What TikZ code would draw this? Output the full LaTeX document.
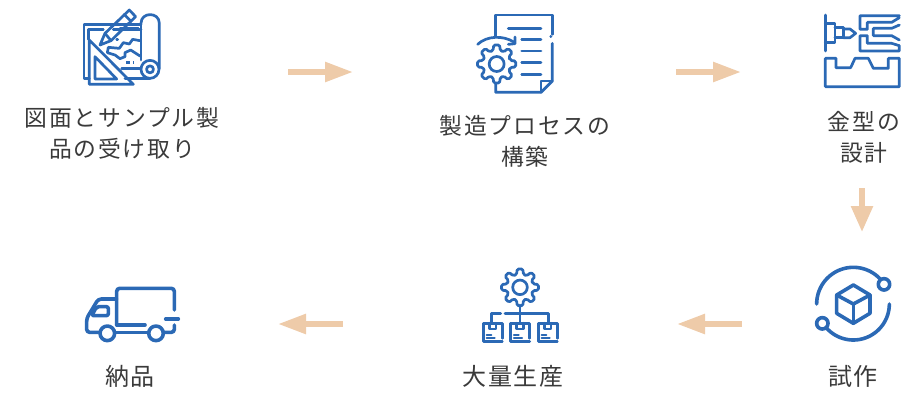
\documentclass[tikz,border=0pt]{standalone}
\usepackage{fontspec}
\setmainfont{Noto Sans CJK JP}[LetterSpace=8]
\usetikzlibrary{arrows.meta}
\definecolor{iconblue}{HTML}{2B69B5}
\definecolor{arrowtan}{HTML}{EECBA9}
\definecolor{labelgrey}{HTML}{3A3A3A}
\tikzset{
  ic/.style={draw=iconblue,line width=2.7pt,line join=round,line cap=round,fill=none},
  icthick/.style={ic,line width=3.6pt},
  icthin/.style={ic,line width=2.2pt},
  zoomed/.style={x=0.33333pt,y=-0.33333pt},
  flowarrow/.style={draw=arrowtan,line width=5.5pt,-{Triangle[length=28pt,width=19pt,fill=arrowtan]}},
  flowdown/.style={draw=arrowtan,line width=5.5pt,-{Triangle[length=26pt,width=21pt,fill=arrowtan]}},
  steplabel/.style={font=\fontsize{22.8}{31}\selectfont,text=labelgrey,align=center,inner sep=0pt},
  bottomlabel/.style={steplabel,font=\fontsize{24}{31}\selectfont}
}
\newcommand{\mygear}[5]{%
  \begin{scope}[shift={(#1,#2)}]
    \pgfmathsetmacro{\gs}{360/#5}
    \draw[ic,rounded corners=1.5pt] ({-.32*\gs}:#4)
      \foreach \i in {1,...,#5}{
        -- ({\i*\gs-\gs-.2*\gs}:#3) -- ({\i*\gs-\gs+.2*\gs}:#3) -- ({\i*\gs-\gs+.32*\gs}:#4) -- ({\i*\gs+\gs-\gs-.32*\gs}:#4)
      } -- cycle;
  \end{scope}}
\begin{document}
\begin{tikzpicture}[x=1pt,y=-1pt]
\useasboundingbox (0,0) rectangle (907,394);
% labels
\node[steplabel] (lab1) at (122,133) {図面とサンプル製\\品の受け取り};
\node[steplabel] (lab2) at (525,141) {製造プロセスの\\構築};
\node[steplabel] (lab3) at (864,137) {金型の\\設計};
\node[bottomlabel] (lab4) at (853,376) {試作};
\node[bottomlabel] (lab5) at (513,376) {大量生産};
\node[bottomlabel] (lab6) at (130,376) {納品};
% connectors
\coordinate (a1s) at (288,72); \coordinate (a1e) at (353,72);
\coordinate (a2s) at (676,72); \coordinate (a2e) at (741,72);
\coordinate (a3s) at (862,188); \coordinate (a3e) at (862,232);
\coordinate (a4s) at (742,324); \coordinate (a4e) at (677,324);
\coordinate (a5s) at (343,324); \coordinate (a5e) at (278,324);
\draw[flowarrow] (a1s) -- (a1e);
\draw[flowarrow] (a2s) -- (a2e);
\draw[flowdown] (a3s) -- (a3e);
\draw[flowarrow] (a4s) -- (a4e);
\draw[flowarrow] (a5s) -- (a5e);
% icon 1: drawings
\begin{scope}[shift={(70pt,0pt)},zoomed]
  \draw[ic] (213,73) -- (42,73) -- (42,235) -- (58,235);
  \draw[ic] (213,88) -- (130,88);
  \draw[ic] (100,88) -- (56,88) -- (56,118);
  \draw[ic] (58,120) -- (58,253) -- (190,253) -- cycle;
  \draw[ic] (75,170) -- (75,237) -- (140,237) -- cycle;
  \draw[ic] (213,73) -- (213,180);
  \draw[ic] (213,70) .. controls (213,35) and (268,35) .. (268,70) -- (268,205);
  \draw[ic] (240,208) circle[radius=9pt];
  \draw[ic] (240,208) circle[radius=3.5pt];
  \draw[ic] (165,235) -- (240,235);
  \draw[ic] (90,135) -- (105,100) -- (178,30) -- (197,50) -- (123,122) -- cycle;
  \draw[ic] (163,44) -- (183,64);
  \draw[ic] (105,100) -- (123,122);
  \draw[ic] (210,122) -- (188,118) -- (178,132) -- (160,128) -- (148,145) -- (115,142) -- (112,158) -- (135,165) -- (150,176) -- (165,170) -- (165,158) -- (182,150) -- (210,168);
  \draw[ic] (140,118) -- (143,118);
  \draw[ic] (150,85) -- (205,85);
  \draw[ic,dash pattern=on 4pt off 3pt,line cap=butt] (168,188) -- (192,188);
  \draw[ic] (155,205) -- (210,205);
\end{scope}
% icon 2
\begin{scope}[shift={(465pt,-5pt)},zoomed]
  \draw[ic] (92,92) -- (92,30) -- (262,30) -- (262,88);
  \draw[ic] (257,95) -- (258,95);
  \draw[ic] (262,115) -- (262,228) -- (228,262) -- (92,262) -- (92,237);
  \draw[ic] (228,262) -- (228,228) -- (262,228);
  \foreach \yy/\xx in {70/130,104/170,138/170,172/170,208/170}{
    \draw[ic] (\xx,\yy) -- (228,\yy);
  }
  \mygear{95}{177}{58}{42}{8}
  \draw[ic] (95,177) circle[radius=7.5pt];
  \draw[ic] (38,118) .. controls (65,92) and (115,90) .. (148,112);
  \draw[ic] (150,96) -- (150,116) -- (130,118);
\end{scope}
% icon 3
\begin{scope}[shift={(810pt,-5pt)},zoomed]
  \draw[ic] (46,30) -- (46,138);
  \draw[ic] (46,55) -- (75,55) -- (75,112) -- (46,112);
  \draw[ic] (75,68) -- (100,68) -- (100,98) -- (75,98);
  \draw[ic] (100,72) -- (120,72) -- (137,85) -- (120,98) -- (100,98);
  \draw[ic] (268,32) -- (150,32) -- (150,73) -- (172,73) -- (172,52) -- (245,52) -- (268,38);
  \draw[ic] (268,60) -- (245,70) -- (190,70) -- (190,92) -- (245,92) -- (268,105);
  \draw[ic] (268,122) -- (245,115) -- (172,115) -- (172,92) -- (150,92) -- (150,138) -- (268,138) -- cycle;
  \draw[ic] (46,160) -- (78,160) -- (78,188) -- (122,188) -- (135,160) -- (175,160) -- (190,190) -- (235,190) -- (235,160) -- (268,160) -- (268,245) -- (46,245) -- cycle;
\end{scope}
% icon 4
\begin{scope}[shift={(805pt,-260pt)},zoomed]
  \begin{scope}[shift={(145,132)}]
    \draw[icthick] plot[domain=180:318,samples=50] (\x:110);
    \draw[icthick] plot[domain=0:139,samples=50] (\x:108);
  \end{scope}
  \draw[icthick] (237,73) circle[radius=5.7pt];
  \draw[icthick] (52,190) circle[radius=5.7pt];
  \draw[icthick] (145,75) -- (195,105) -- (195,160) -- (145,190) -- (95,160) -- (95,105) -- cycle;
  \draw[icthick] (95,105) -- (145,132) -- (195,105);
  \draw[icthick] (145,132) -- (145,190);
\end{scope}
% icon 5
\begin{scope}[shift={(470pt,-260pt)},zoomed]
  \mygear{150}{82}{56}{40}{8}
  \draw[ic] (150,82) circle[radius=7.3pt];
  \draw[ic] (150,135) -- (150,188);
  \draw[ic] (105,160) -- (235,160) -- (235,190);
  \draw[ic] (92,160) -- (65,160) -- (65,190);
  \foreach \xa in {40,122,205}{
    \draw[ic] (\xa+57,235) -- (\xa+57,190) -- (\xa,190) -- (\xa,245) -- (\xa+57,245);
    \draw[ic] (\xa+18,190) -- (\xa+18,207) -- (\xa+38,207) -- (\xa+38,190);
    \draw[icthin] (\xa+10,225) -- (\xa+24,225);
    \draw[icthin] (\xa+10,235) -- (\xa+34,235);
  }
\end{scope}
% icon 6
\begin{scope}[shift={(75pt,-275pt)},zoomed]
  \draw[icthick,rounded corners=3pt] (125,150) -- (125,40) -- (298,40) -- (298,105);
  \draw[icthick] (125,150) -- (210,150);
  \draw[icthick] (272,132) -- (310,132);
  \draw[icthick,rounded corners=3pt] (298,150) -- (298,172) -- (268,172);
  \draw[icthick,rounded corners=3pt] (125,72) -- (70,72) -- (35,130) -- (35,172) -- (70,172);
  \draw[icthick,rounded corners=2pt] (100,95) -- (65,95) -- (50,122) -- (100,122) -- cycle;
  \draw[icthick] (97,175) circle[radius=7.3pt];
  \draw[icthick] (243,175) circle[radius=7.3pt];
  \draw[icthick] (122,172) -- (218,172);
\end{scope}
\end{tikzpicture}
\end{document}
